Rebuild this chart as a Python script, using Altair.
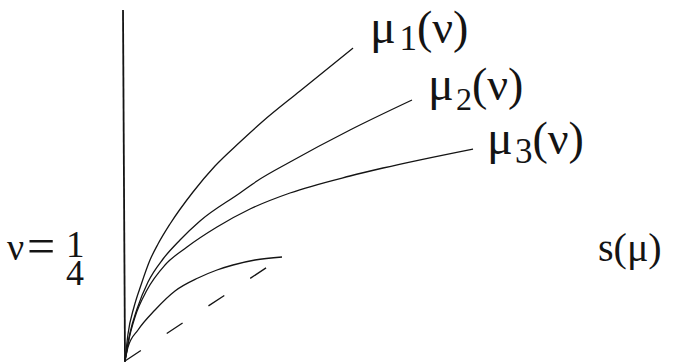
import altair as alt
import pandas as pd

# Curves mu_1, mu_2, mu_3 (nu = 1/4) and the lower s(mu) branch, all from the origin
mu1_x = [0.00, 0.03, 0.09, 0.16, 0.25, 0.33, 0.45, 0.68, 0.90, 1.15, 1.37, 1.75, 2.28]
mu1_y = [0.00, 0.27, 0.54, 0.76, 1.01, 1.17, 1.37, 1.69, 1.95, 2.19, 2.39, 2.70, 3.13]

mu2_x = [0.00, 0.05, 0.12, 0.23, 0.38, 0.55, 0.75, 1.15, 1.32, 1.65, 2.25, 2.87]
mu2_y = [0.00, 0.28, 0.52, 0.79, 1.02, 1.21, 1.40, 1.68, 1.80, 1.99, 2.31, 2.61]

mu3_x = [0.00, 0.04, 0.10, 0.22, 0.40, 0.62, 0.92, 1.25, 1.65, 2.25, 2.58, 3.48]
mu3_y = [0.00, 0.22, 0.44, 0.71, 0.96, 1.14, 1.34, 1.52, 1.68, 1.85, 1.93, 2.12]

low_x = [0.00, 0.03, 0.13, 0.30, 0.50, 0.73, 0.92, 1.08, 1.30, 1.57]
low_y = [0.00, 0.14, 0.31, 0.51, 0.70, 0.83, 0.91, 0.96, 1.01, 1.04]

# Straight dashed reference line
dash_x = [0.00, 1.50]
dash_y = [0.00, 0.99]

# Vertical axis line
axis_x = [-0.02, 0.00]
axis_y = [3.51, -0.01]

# Text pieces: labels, subscripts and the stacked fraction 1/4
label_text = ["μ", "1", "(ν)",
              "μ", "2", "(ν)",
              "μ", "3", "(ν)",
              "ν", "=", "1", "4",
              "s(μ)"]
label_x = [2.45, 2.745, 2.92,
           3.03, 3.31, 3.47,
           3.62, 3.90, 4.075,
           -1.18, -0.98, -0.59, -0.59,
           4.73]
label_y = [3.18, 3.11, 3.18,
           2.61, 2.51, 2.61,
           2.07, 1.98, 2.07,
           1.01, 0.98, 1.04, 0.76,
           1.00]
label_size = [48, 35, 46,
              48, 32, 46,
              48, 35, 46,
              38, 50, 37, 36,
              40]

curves = pd.concat([
    pd.DataFrame({"s": mu1_x, "v": mu1_y, "curve": "mu1"}),
    pd.DataFrame({"s": mu2_x, "v": mu2_y, "curve": "mu2"}),
    pd.DataFrame({"s": mu3_x, "v": mu3_y, "curve": "mu3"}),
    pd.DataFrame({"s": low_x, "v": low_y, "curve": "low"}),
])
dashed = pd.DataFrame({"s": dash_x, "v": dash_y})
axis_df = pd.DataFrame({"s": axis_x, "v": axis_y})
labels = pd.DataFrame({"t": label_text, "s": label_x, "v": label_y, "size": label_size})

xs = alt.Scale(domain=[-1.25, 5.51], zero=False, nice=False)
ys = alt.Scale(domain=[-0.03, 3.61], zero=False, nice=False)
X = alt.X("s:Q", scale=xs, axis=None)
Y = alt.Y("v:Q", scale=ys, axis=None)

ink = "#141414"

curve_layer = alt.Chart(curves).mark_line(
    color=ink, strokeWidth=1.3, interpolate="monotone"
).encode(x=X, y=Y, detail="curve:N", order="s:Q")

dash_layer = alt.Chart(dashed).mark_line(
    color=ink, strokeWidth=1.3, strokeDash=[19, 31]
).encode(x=X, y=Y)

axis_layer = alt.Chart(axis_df).mark_line(
    color=ink, strokeWidth=1.8
).encode(x=X, y=Y, order=alt.Order("v:Q", sort="descending"))

text_layer = alt.Chart(labels).mark_text(
    align="left", baseline="alphabetic", font="Liberation Serif", color=ink
).encode(x=X, y=Y, text="t:N", size=alt.Size("size:Q", scale=None))

chart = alt.layer(axis_layer, dash_layer, curve_layer, text_layer).properties(
    width=676, height=364, padding=0, autosize=alt.AutoSizeParams(type="none"),
    background="white"
).configure_view(stroke=None)

chart.save("out.html", embed_options={"renderer": "svg", "actions": False})
